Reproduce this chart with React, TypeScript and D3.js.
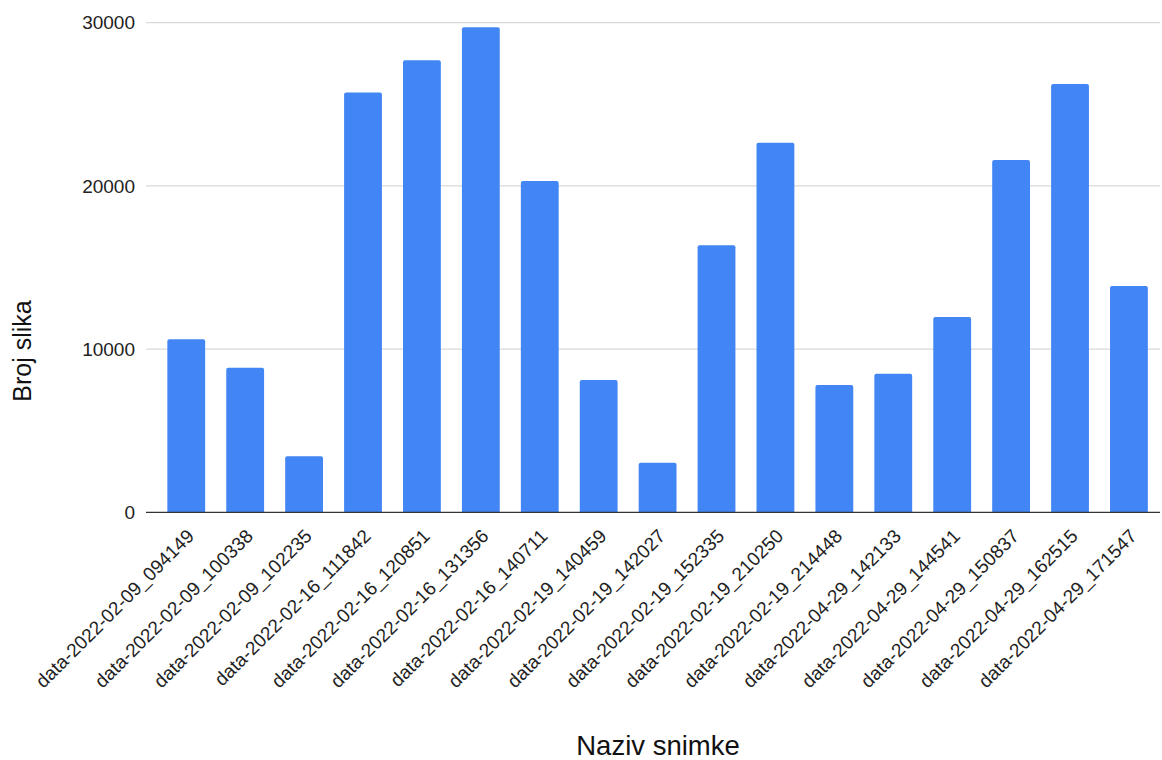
import React from "react";
import * as d3 from "d3";

const categories = [
  "data-2022-02-09_094149",
  "data-2022-02-09_100338",
  "data-2022-02-09_102235",
  "data-2022-02-16_111842",
  "data-2022-02-16_120851",
  "data-2022-02-16_131356",
  "data-2022-02-16_140711",
  "data-2022-02-19_140459",
  "data-2022-02-19_142027",
  "data-2022-02-19_152335",
  "data-2022-02-19_210250",
  "data-2022-02-19_214448",
  "data-2022-04-29_142133",
  "data-2022-04-29_144541",
  "data-2022-04-29_150837",
  "data-2022-04-29_162515",
  "data-2022-04-29_171547",
];
const values = [
  10600, 8860, 3430, 25730, 27700, 29720, 20300, 8110, 3040, 16360, 22650,
  7800, 8490, 11970, 21590, 26240, 13870,
];
const yTicks = [0, 10000, 20000, 30000];

const W = 1162;
const H = 760;
const plotLeft = 146;
const plotRight = 1160;
const yTop = 22.7;
const yBottom = 512.3;

export default function App() {
  const x = d3
    .scaleBand<string>()
    .domain(categories)
    .range([156.8, 1158.4])
    .paddingInner(0.358)
    .paddingOuter(0.179);
  const y = d3.scaleLinear().domain([0, 30000]).range([yBottom, yTop]);
  const font = "'Liberation Sans', Arial, sans-serif";
  const r = 2;

  const barPath = (x0: number, w: number, top: number, bottom: number) => {
    const rr = Math.min(r, (bottom - top) / 2);
    return `M${x0},${bottom}V${top + rr}Q${x0},${top} ${x0 + rr},${top}H${x0 + w - rr}Q${x0 + w},${top} ${x0 + w},${top + rr}V${bottom}Z`;
  };

  return (
    <svg
      width={W}
      height={H}
      style={{ position: "absolute", left: 0, top: 0, background: "#fff" }}
      fontFamily={font}
    >
      <rect width={W} height={H} fill="#fff" />
      {yTicks.map((t) =>
        t === 0 ? null : (
          <line
            key={t}
            x1={plotLeft}
            x2={plotRight}
            y1={y(t)}
            y2={y(t)}
            stroke="#d0d0d0"
            strokeWidth={1}
          />
        )
      )}
      {yTicks.map((t) => (
        <text
          key={"l" + t}
          x={135}
          y={y(t)}
          dy="0.35em"
          textAnchor="end"
          fontSize={19}
          fill="#222"
        >
          {t}
        </text>
      ))}
      {categories.map((c, i) => {
        const x0 = x(c)!;
        return (
          <path
            key={c}
            d={barPath(x0, x.bandwidth(), y(values[i]), y(0))}
            fill="#4285f4"
          />
        );
      })}
      <line
        x1={plotLeft}
        x2={plotRight}
        y1={y(0)}
        y2={y(0)}
        stroke="#333"
        strokeWidth={1.2}
      />
      {categories.map((c) => {
        const cx = x(c)! + x.bandwidth() / 2;
        return (
          <text
            key={"x" + c}
            transform={`translate(${cx + 9},${y(0) + 25}) rotate(-45)`}
            textAnchor="end"
            fontSize={19}
            fill="#222"
          >
            {c}
          </text>
        );
      })}
      <text
        transform={`translate(31,351) rotate(-90)`}
        textAnchor="middle"
        fontSize={25}
        fill="#111"
      >
        Broj slika
      </text>
      <text x={658} y={755} textAnchor="middle" fontSize={27.5} fill="#111">
        Naziv snimke
      </text>
    </svg>
  );
}
